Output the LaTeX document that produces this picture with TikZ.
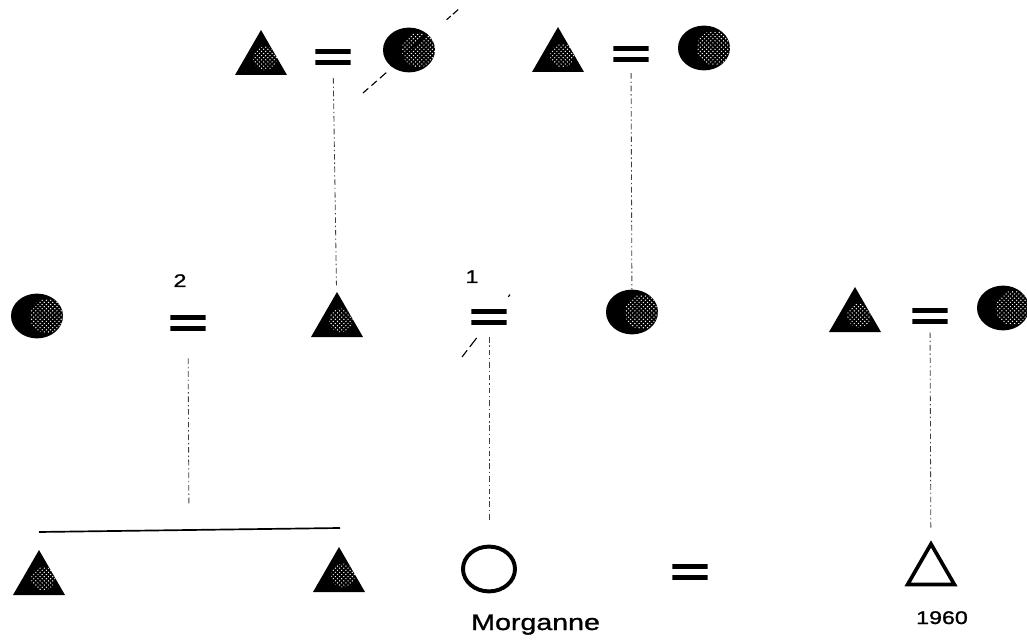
\documentclass[tikz,border=0pt]{standalone}
\usepackage{fontspec}
\newfontfamily\kinfont[FakeStretch=1.27, FakeBold=1.2]{Liberation Sans}
\usetikzlibrary{shapes.geometric,patterns}

\begin{document}
\begin{tikzpicture}[
x=0.025cm, y=-0.025cm,
man/.style={regular polygon, regular polygon sides=3, minimum size=1.5cm, inner sep=0pt, fill=black,
  path picture={\fill[pattern=crosshatch dots, pattern color=white] ([xshift=1mm,yshift=-1.5mm]path picture bounding box.center) circle (3mm);}},
woman/.style={ellipse, minimum width=1.3cm, minimum height=1.12cm, inner sep=0pt, fill=black,
  path picture={\fill[pattern=crosshatch dots, pattern color=white] ([xshift=2.5mm]path picture bounding box.center) circle (4.3mm);}},
lost/.style={woman,
  path picture={\fill[pattern=crosshatch dots, pattern color=white] ([xshift=2.5mm]path picture bounding box.center) circle (4.3mm);
                \draw[line width=1.6pt] (path picture bounding box.south west) -- (path picture bounding box.north east);}},
ego/.style={ellipse, draw, line width=2.8pt, minimum width=1.3cm, minimum height=1.12cm, inner sep=0pt},
openman/.style={regular polygon, regular polygon sides=3, draw, line width=2.6pt, minimum size=1.35cm, inner sep=0pt},
wed/.style={minimum width=0.88cm, minimum height=0.38cm, inner sep=0pt,
  path picture={\fill (path picture bounding box.north west) rectangle ([yshift=-1.1mm]path picture bounding box.north east);
                \fill (path picture bounding box.south west) rectangle ([yshift=1.1mm]path picture bounding box.south east);}},
kin/.style={line width=0.6pt, black!75, dash pattern=on 4pt off 2pt on 1pt off 2pt},
gone/.style={line width=0.8pt},
num/.style={font=\kinfont\fontsize{13}{15}\selectfont, inner sep=0pt},
given/.style={font=\kinfont\fontsize{16}{18}\selectfont, inner sep=0pt}
]
\useasboundingbox (0,0) rectangle (1027,642);

% grandparents
\node[man] (tA) at (261,60) {};
\node[wed] (eA) at (333,57) {};
\node[lost] (wA) at (409,50) {};
\node[man] (tB) at (558,57) {};
\node[wed] (eB) at (631,54) {};
\node[woman] (wB) at (704,48) {};

% parents
\node[woman] (wL) at (37,316) {};
\node[wed] (e2) at (188,323) {};
\node[num, anchor=base] (n2) at (180,287) {2};
\node[man] (tM) at (337,322) {};
\node[wed] (e1) at (489,317) {};
\node[num, anchor=base] (n1) at (472,283) {1};
\node[woman] (wM) at (632,312) {};
\node[man] (tR) at (855,317) {};
\node[wed] (eC) at (930,316) {};
\node[woman] (wR) at (1003,308) {};

% children
\node[man] (s1) at (39,580) {};
\node[man] (s2) at (339,577) {};
\node[ego] (self) at (489,569) {};
\node[wed] (eD) at (690,572) {};
\node[openman] (sp) at (931,571) {};
\node[given, anchor=base west] (nm) at (471,630) {Morganne};
\node[num, anchor=base] (yr) at (942,624) {1960};

% sibling bar
\coordinate (sibL) at (39,532);
\coordinate (sibR) at (340,528);
\coordinate (sib) at (189,530);
\draw[line width=1.2pt] (sibL) -- (sibR);

% descent lines
\draw[kin, shorten <=3.3mm, shorten >=1.7mm] (eA) -- (tM);
\draw[kin, shorten <=2.8mm] (eB) -- (wM);
\draw[kin, shorten <=6.9mm, shorten >=6.2mm] (e2) -- (sib);
\draw[kin, shorten <=3mm, shorten >=6.2mm] (e1) -- (self);
\draw[kin, shorten <=2.1mm, shorten >=2.7mm] (eC) -- (sp);

% strike-throughs
\coordinate (dA1) at (363,93);
\coordinate (dA2) at (460,8);
\draw[gone, dash pattern=on 5pt off 3pt on 5pt off 3pt on 6pt off 57pt on 4pt off 2pt on 5pt] (dA1) -- (dA2);
\coordinate (dB1) at (462,357);
\coordinate (dB2) at (512,292);
\draw[gone, dash pattern=on 6pt off 3pt on 8pt off 37pt on 2pt off 10pt] (dB1) -- (dB2);
\end{tikzpicture}
\end{document}
